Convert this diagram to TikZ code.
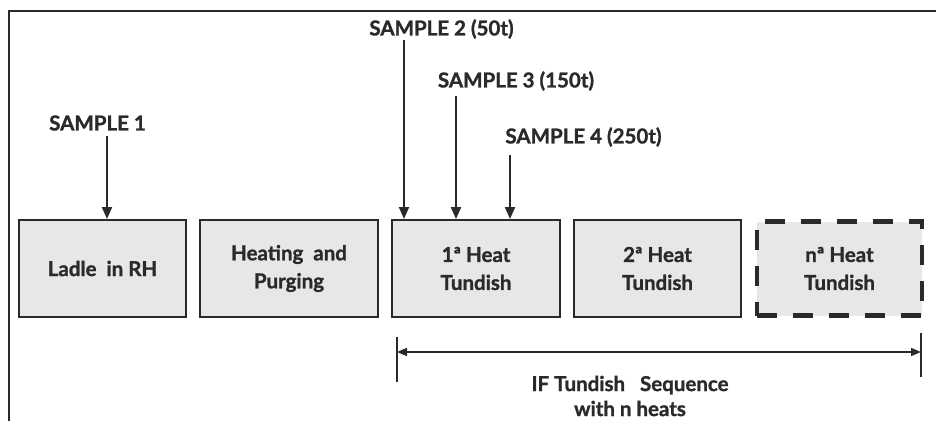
\documentclass[tikz,border=0pt]{standalone}
\usepackage{fontspec}
\setmainfont{Lato}[BoldFeatures={FakeBold=1.2}]
\usetikzlibrary{arrows.meta,calc}
\definecolor{boxfill}{HTML}{E6E7E9}
\definecolor{ink}{HTML}{2A2A2A}
\begin{document}
\begin{tikzpicture}[x=1pt,y=-1pt,
  lbl/.style={font=\bfseries\fontsize{20.5}{24}\selectfont, text=ink, inner sep=0pt},
  stagebox/.style={draw=ink, line width=2pt, fill=boxfill, minimum width=167pt, minimum height=97pt, align=center, font=\bfseries\fontsize{20.5}{28}\selectfont, text=ink, inner sep=0pt},
  dashbox/.style={stagebox, line width=4.8pt, dash pattern=on 20pt off 16pt},
  arr/.style={draw=ink, line width=2pt, -{Triangle[width=10pt,length=12pt]}},
  dim/.style={draw=ink, line width=1.6pt, {Triangle[width=8pt,length=10pt]}-{Triangle[width=8pt,length=10pt]}},
  tick/.style={draw=ink, line width=2pt}]
\useasboundingbox (0,0) rectangle (936,421);
\fill[white] (0,0) rectangle (936,421);
% frame
\coordinate (fbl) at (9,421);
\coordinate (ftl) at (9,11);
\coordinate (ftr) at (936,11);
\draw[ink, line width=2pt] (fbl) -- (ftl) -- (ftr);
% boxes
\node[stagebox] (b1) at (102.5,268.5) {Ladle\ \ in RH};
\node[stagebox, minimum width=178pt] (b2) at (289,268.5) {Heating\ \ and\\Purging};
\node[stagebox, minimum width=168pt] (b3) at (476,268.5) {1ª Heat\\Tundish};
\node[stagebox] (b4) at (657.5,268.5) {2ª Heat\\Tundish};
\node[dashbox, minimum width=165pt, minimum height=94pt] (b5) at (839.5,268.5) {nª Heat\\Tundish};
% samples
\node[lbl] (s1) at (97.5,123) {SAMPLE 1};
\node[lbl] (s2) at (441.5,29) {SAMPLE 2 (50t)};
\node[lbl] (s3) at (516,81) {SAMPLE 3 (150t)};
\node[lbl] (s4) at (583.5,137) {SAMPLE 4 (250t)};
\coordinate (a1) at (107,136);
\coordinate (a2) at (404,40);
\coordinate (a3) at (456,96);
\coordinate (a4) at (510,155);
\draw[arr] (a1) -- (a1 |- b1.north);
\draw[arr] (a2) -- (a2 |- b3.north);
\draw[arr] (a3) -- (a3 |- b3.north);
\draw[arr] (a4) -- (a4 |- b3.north);
% dimension line
\coordinate (dl) at (397,352);
\coordinate (dr) at (921,352);
\draw[tick] (397,337) -- (397,382);
\draw[tick] (921,333) -- (921,377);
\draw[dim] (dl) -- (dr);
\node[lbl, align=center, font=\bfseries\fontsize{20.5}{25}\selectfont] (seq) at (630,396) {IF Tundish\ \ \ Sequence\\with n heats};
\end{tikzpicture}
\end{document}
